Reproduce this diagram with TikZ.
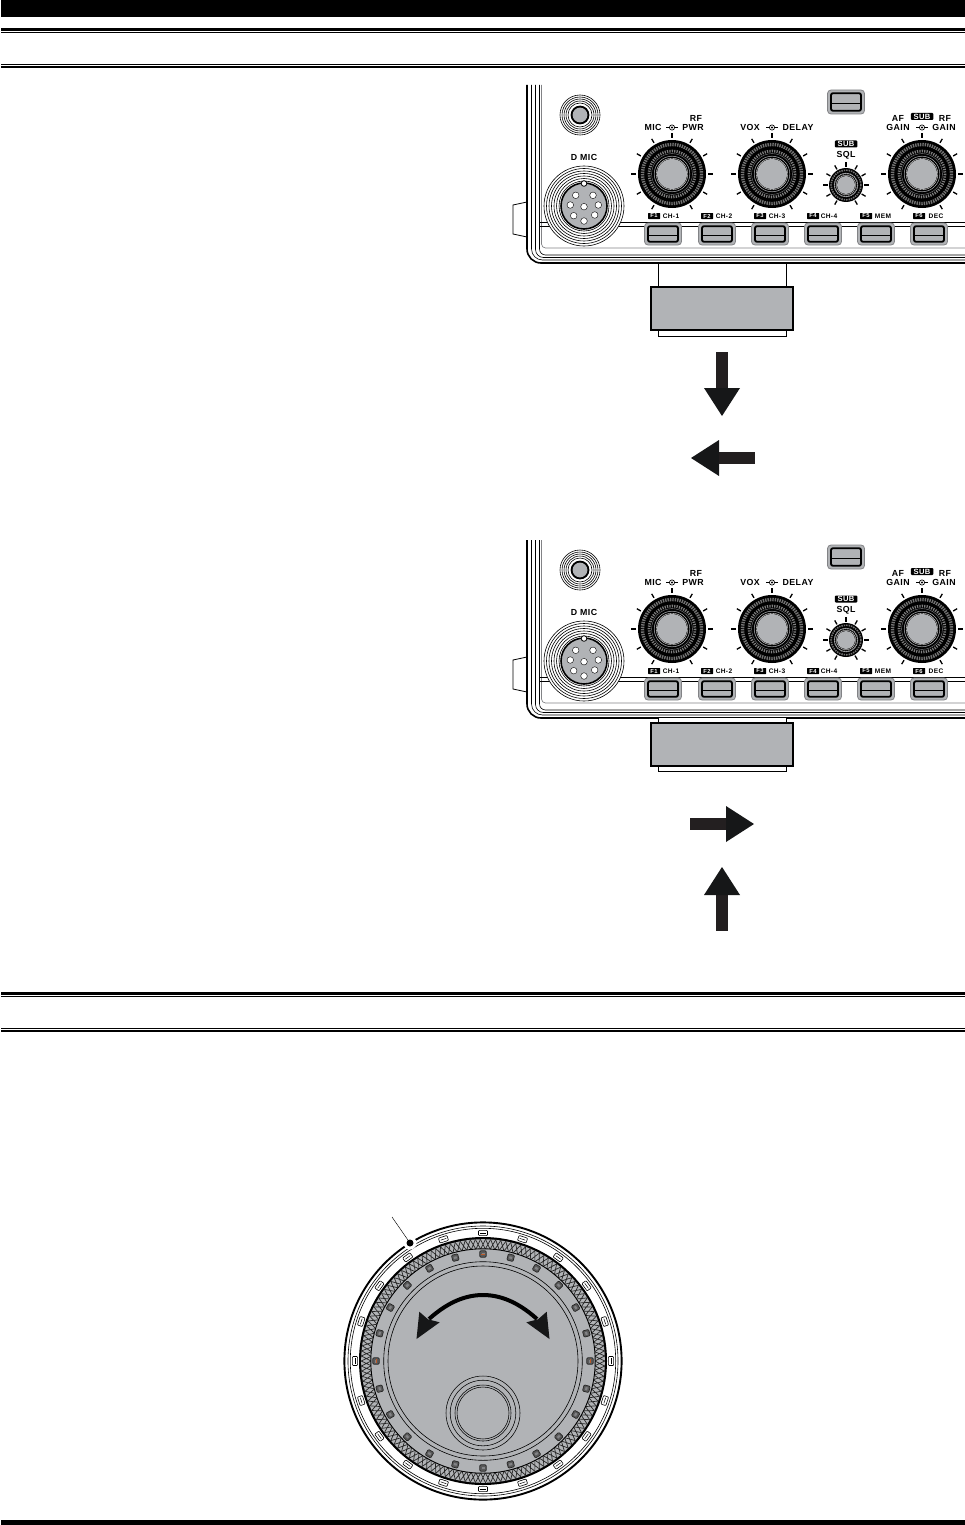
\documentclass[tikz,border=0pt]{standalone}
\usepackage{fontspec}
\newfontfamily\panelfont[LetterSpace=5]{Liberation Sans}
\definecolor{dialgrey}{RGB}{177,179,182}
\definecolor{ringgrey}{RGB}{130,131,134}
\definecolor{shaftdark}{RGB}{35,31,32}
\definecolor{headdark}{RGB}{22,23,24}
\definecolor{markorange}{RGB}{190,90,40}
\tikzset{
  rule/.style={draw=black, line width=#1},
  paneltext/.style={font=\panelfont\bfseries\fontsize{8.8}{9}\selectfont, inner sep=0pt, text=black},
  smalltext/.style={font=\panelfont\bfseries\fontsize{6.6}{7}\selectfont, inner sep=0pt, text=black},
  keytag/.style={font=\panelfont\bfseries\fontsize{5.8}{6}\selectfont, fill=black, text=white, inner sep=0pt, minimum width=12pt, minimum height=6pt, rounded corners=.5pt},
  subtag/.style={font=\panelfont\bfseries\fontsize{7.6}{8}\selectfont, fill=black, text=white, inner sep=0pt, minimum width=22.5pt, minimum height=7pt, rounded corners=1pt},
  pics/knobdial/.style n args={3}{code={
    \fill[black] (0,0) circle ({#1*34});
    \draw[black!55, line width={#1*3.4}, dash pattern=on 1.4pt off 1pt] (0,0) circle ({#1*29.5});
    \draw[black, line width=.9pt] (0,0) circle ({#1*26.3});
    \draw[black!50, line width={#1*2.8}, dash pattern=on 1.2pt off 1.2pt] (0,0) circle ({#1*23});
    \draw[ringgrey, line width=.4pt] (0,0) circle ({#1*20.4});
    \draw[dialgrey, line width=.5pt] (0,0) circle ({#2+2.8});
    \fill[black] (0,0) circle ({#2+1.7});
    \draw[white, line width=.35pt] (0,0) circle ({#2+.8});
    \fill[dialgrey] (0,0) circle (#2);
    \foreach \a in {-90,-60,...,60,120,150,...,240}
      \draw[black, line width=1.3pt] (\a:{#1*34+#3}) -- (\a:{#1*34+#3+4.6});
  }},
  pics/keybutton/.style 2 args={code={
    \draw[ringgrey, fill=dialgrey, line width=.8pt, rounded corners=3.5pt] ({-#1/2},{-#2/2}) rectangle ({#1/2},{#2/2});
    \draw[black, fill=dialgrey, line width=1.8pt, rounded corners=2pt] ({-#1/2+3.5},{-#2/2+3.2}) rectangle ({#1/2-3.5},{#2/2-3.2});
    \draw[black, line width=.8pt] ({-#1/2+3.5},1.5) -- ({#1/2-3.5},1.5);
  }},
  pics/knobsign/.style={code={
    \draw[black, line width=.7pt] (-6,0) -- (6,0);
    \draw[black, fill=white, line width=.7pt] (0,0) circle (2.6);
    \fill[black] (0,0) circle (1.1);
  }},
  pics/blockarrow/.style={code={
    \fill[shaftdark] (0,-5.6) rectangle (36,5.6);
    \fill[headdark] (36,-18) -- (64,0) -- (36,18) -- cycle;
  }},
  pics/radiopanel/.style={code={
    % case outline
    \foreach \dx/\dy/\rr/\wd/\cl in {0/0/14/1.6/black,4.5/3/11/.6/black,8.5/5.5/8/.6/black,12.5/8/6/.6/black,14.5/15/4/.7/ringgrey}
      \draw[\cl, line width=\wd pt, rounded corners=\rr pt] ({527+\dx},85) -- ({527+\dx},{263-\dy}) -- (965,{263-\dy});
    \draw[black, line width=.8pt] (527,202) -- (513,205) -- (513,234) -- (527,237);
    \draw[black, line width=.7pt] (540,222) -- (965,222) (540,226.5) -- (965,226.5);
    % microphone sockets
    \foreach \r in {20,18,16,14,12}
      \draw[black, fill=white, line width=.6pt] (580,115) circle (\r);
    \fill[black] (580,115) circle (9.4);
    \fill[dialgrey] (580,115) circle (7.4);
    \foreach \r in {40,37.5,35,32.5,30,27.5,25}
      \draw[black, fill=white, line width=.6pt] (584,206) circle (\r);
    \draw[black, fill=dialgrey, line width=1.6pt] (584,206) circle (23);
    \draw[black, fill=white, line width=.8pt] (584,183.5) circle (2.8);
    \foreach \px/\py in {-8.3/-10.7,9/-10.7,-13.7/-1,14.3/-1,0/.7,-10.3/9.7,10.7/9,0/15}
      \draw[black, fill=white, line width=.4pt] ({584+\px},{206+\py}) circle (3.3);
    \node[paneltext] (-dmic) at (584,157) {D MIC};
    % knobs
    \foreach \x in {672,772,922}
      \pic at (\x,174) {knobdial={1}{15}{2}};
    \pic at (846,185) {knobdial={.5}{9}{1}};
    \foreach \x in {672,772,922}
      \pic at (\x,127.5) {knobsign};
    \node[paneltext] (-mic) at (653,127.5) {MIC};
    \node[paneltext] (-rf) at (696,118.5) {RF};
    \node[paneltext] (-pwr) at (693,127.5) {PWR};
    \node[paneltext] (-vox) at (750,127.5) {VOX};
    \node[paneltext] (-delay) at (798,127.5) {DELAY};
    \node[paneltext] (-af) at (898,118.5) {AF};
    \node[paneltext] (-gainl) at (898,127.5) {GAIN};
    \node[subtag] (-subgain) at (922,116.5) {SUB};
    \node[paneltext] (-rfr) at (945,118.5) {RF};
    \node[paneltext] (-gainr) at (944,127.5) {GAIN};
    \node[subtag] (-subsql) at (846,144) {SUB};
    \node[paneltext] (-sql) at (846,155) {SQL};
    % keys
    \pic at (846,102) {keybutton={37}{24}};
    \foreach \x in {663,717,770,823,876,929}
      \pic at (\x,234) {keybutton={37}{22}};
    \foreach \x/\f in {654/F1,707/F2,760/F3,813/F4,866/F5,919/F6}
      \node[keytag] (-\f) at (\x,216) {\f};
    \foreach \x/\f/\lbl in {671/F1/CH-1,724/F2/CH-2,777/F3/CH-3,829/F4/CH-4,883/F5/MEM,936/F6/DEC}
      \node[smalltext] (-\f-text) at (\x,216) {\lbl};
  }},
}
\begin{document}
\begin{tikzpicture}[x=1pt,y=-1pt]
  \useasboundingbox (0,0) rectangle (965,1525);
  % page rules
  \fill[black] (1,0) rectangle (965,17);
  \fill[black] (1,1520) rectangle (965,1525);
  \foreach \y/\wd in {29.5/2.5,32.5/1,64.5/1,67/2.4,993.4/2.6,996.2/1,1028.8/1,1031/2.2}
    \draw[rule=\wd pt] (1,\y) -- (965,\y);

  \pic (upper) at (0,0) {radiopanel};
  \pic (lower) at (0,455) {radiopanel};

  % sliding cover, open
  \draw[black, fill=white, line width=.8pt] (658,263) rectangle (786,336);
  \draw[black, fill=dialgrey, line width=1.5pt] (651,287) rectangle (793,330);
  \pic[rotate=-90] at (722,352) {blockarrow};
  \pic[rotate=180] at (755,458) {blockarrow};
  % sliding cover, closed
  \draw[black, fill=white, line width=.8pt] (658,717) rectangle (786,771);
  \draw[black, line width=1.6pt] (546,718) -- (658,718) (786,718) -- (965,718);
  \draw[black, fill=dialgrey, line width=1.5pt] (651,723) rectangle (793,766);
  \pic[rotate=0] at (690,824) {blockarrow};
  \pic[rotate=90] at (722,931) {blockarrow};

  % main dial
  \coordinate (DIAL) at (483,1361);
  \begin{scope}[shift={(DIAL)}]
    \draw[black, fill=white, line width=1.9pt] (0,0) circle (138.6);
    \draw[black, line width=.6pt] (0,0) circle (135);
    \draw[black, line width=.6pt] (0,0) circle (132.7);
    \foreach \a in {-90,-72,...,252} {
      \draw[black, fill=white, line width=.6pt, rounded corners=.8pt, shift={(\a:128)}, rotate={-\a-90}] (-4.5,-2.6) rectangle (4.5,2.6);
      \draw[black, line width=.5pt, shift={(\a:128)}, rotate={-\a-90}] (-3,0) -- (3,0);
    }
    \fill[black] (0,0) circle (124);
    \fill[dialgrey] (0,0) circle (121.8);
    \foreach \a in {0,2.4,...,357.6}
      \draw[black!85, line width=.7pt] (\a:112) -- ({\a+2.4}:121.8) (\a:121.8) -- ({\a+2.4}:112);
    \draw[black, fill=dialgrey, line width=.9pt] (0,0) circle (112.2);
    \foreach \a in {-90,-75,...,255} {
      \draw[black!85, fill=black!65, line width=.7pt, rounded corners=1pt, shift={(\a:107)}, rotate={-\a-90}] (-3.2,-3.2) rectangle (3.2,3.2);
      \fill[ringgrey, shift={(\a:107)}, rotate={-\a-90}] (-1.5,-1.1) rectangle (1.5,1.1);
    }
    \foreach \a in {-90,0,180}
      \draw[markorange, line width=.8pt, shift={(\a:107)}, rotate={-\a-90}] (-2.4,0) -- (2.4,0);
    \draw[black, line width=.6pt] (0,0) circle (99.3);
    \draw[black, line width=.6pt] (0,0) circle (95);
    % finger grip
    \foreach \r in {37,32.8,28,26}
      \draw[black, line width=.55pt] (0,52) circle (\r);
    % turning arrow
    \draw[black, line width=4pt] (-54,-42) .. controls (-34,-60) and (-16,-66) .. (0,-66) .. controls (16,-66) and (34,-60) .. (54,-42);
    \fill[headdark] (-66.5,-22) -- (-63.7,-49.3) -- (-55,-41.7) -- (-43.3,-38.7) -- cycle;
    \fill[headdark] (66.5,-22) -- (63.7,-49.3) -- (55,-41.7) -- (43.3,-38.7) -- cycle;
  \end{scope}
  \coordinate (LEADTOP) at (392,1217);
  \coordinate (LEADDOT) at (410,1243);
  \fill[white] (LEADDOT) circle (6.5);
  \draw[black, line width=.45pt] (LEADTOP) -- (LEADDOT);
  \fill[black] (LEADDOT) circle (3.5);
\end{tikzpicture}
\end{document}
